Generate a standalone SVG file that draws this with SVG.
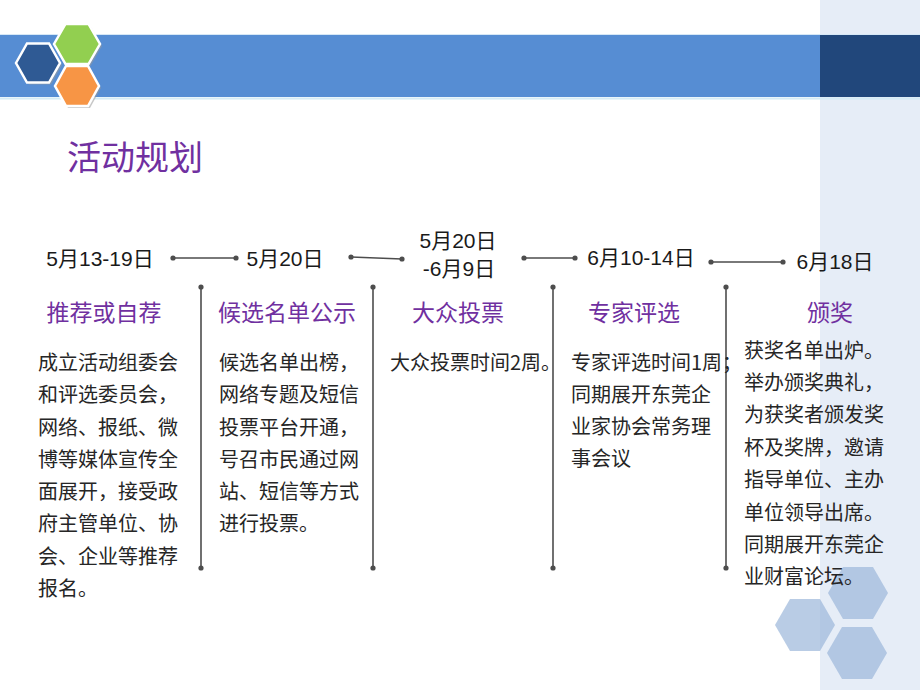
<svg xmlns="http://www.w3.org/2000/svg" width="920" height="690" viewBox="0 0 920 690">
<style>
.date{font-family:"Liberation Sans","Noto Sans CJK SC",sans-serif;font-size:21px;fill:#1a1a1a;text-anchor:middle}
.head{font-family:"Noto Sans CJK SC",sans-serif;font-size:23px;fill:#7030a0;text-anchor:middle}
.body{font-family:"Noto Sans CJK SC",sans-serif;font-size:20px;fill:#262626}
.title{font-family:"Noto Sans CJK SC",sans-serif;font-size:34px;fill:#7030a0}
.conn line{stroke:#4d4d4d;stroke-width:1.6}
.conn circle{fill:#4d4d4d}
.hexs{stroke:#ffffff;stroke-width:2.5}
.lhex{fill:#9bb7da;opacity:0.7}
</style>
<rect x="0" y="0" width="920" height="690" fill="#ffffff"/>
<rect x="820" y="0" width="100" height="690" fill="#e6edf7"/>
<g id="band">
<rect x="0" y="35" width="820" height="62" fill="#568dd3"/>
<rect x="820" y="35" width="100" height="62" fill="#21477b"/>
<line x1="0" y1="34.5" x2="920" y2="34.5" stroke="#d6e8f6" stroke-width="1"/>
<line x1="0" y1="98.5" x2="920" y2="98.5" stroke="#d4ecf6" stroke-width="2"/>
</g>
<g id="logo">
<g fill="#9a9a9a" opacity="0.55" transform="translate(2,2)">
<polygon points="16,63 27,43.5 49,43.5 60,63 49,82.5 27,82.5"/>
<polygon points="54,44 65.5,24 88.5,24 100,44 88.5,64 65.5,64"/>
<polygon points="55,86 66,66 88,66 99,86 88,106 66,106"/>
</g>
<polygon class="hexs" fill="#2f5a94" points="16,63 27,43.5 49,43.5 60,63 49,82.5 27,82.5"/>
<polygon class="hexs" fill="#92cf50" points="54,44 65.5,24 88.5,24 100,44 88.5,64 65.5,64"/>
<polygon class="hexs" fill="#f79545" points="55,86 66,66 88,66 99,86 88,106 66,106"/>
</g>
<g id="deco-hexes">
<polygon class="lhex" points="828,593 843,567 873,567 888,593 873,619 843,619"/>
<polygon class="lhex" points="775,625 790,599 820,599 835,625 820,651 790,651"/>
<polygon class="lhex" points="827,653 842,627 872,627 887,653 872,679 842,679"/>
</g>
<text id="title" class="title" x="67" y="170">活动规划</text>
<g id="connectors" class="conn">
<line x1="173" y1="258" x2="236" y2="258"/><circle cx="173" cy="258" r="2.6"/><circle cx="236" cy="258" r="2.6"/>
<line x1="351" y1="257" x2="402" y2="259"/><circle cx="351" cy="257" r="2.6"/><circle cx="402" cy="259" r="2.6"/>
<line x1="524" y1="258" x2="575" y2="258"/><circle cx="524" cy="258" r="2.6"/><circle cx="575" cy="258" r="2.6"/>
<line x1="711" y1="262" x2="783" y2="262"/><circle cx="711" cy="262" r="2.6"/><circle cx="783" cy="262" r="2.6"/>
<line x1="201" y1="287" x2="201" y2="568"/><circle cx="201" cy="287" r="2.6"/><circle cx="201" cy="568" r="2.6"/>
<line x1="373" y1="287" x2="373" y2="568"/><circle cx="373" cy="287" r="2.6"/><circle cx="373" cy="568" r="2.6"/>
<line x1="553" y1="287" x2="553" y2="568"/><circle cx="553" cy="287" r="2.6"/><circle cx="553" cy="568" r="2.6"/>
<line x1="726" y1="287" x2="726" y2="568"/><circle cx="726" cy="287" r="2.6"/><circle cx="726" cy="568" r="2.6"/>
</g>
<g id="stage1">
<text class="date" x="100" y="266">5月13-19日</text>
<text class="head" x="104" y="321">推荐或自荐</text>
<text class="body" x="38"><tspan x="38" y="370">成立活动组委会</tspan><tspan x="38" y="402">和评选委员会，</tspan><tspan x="38" y="434.5">网络、报纸、微</tspan><tspan x="38" y="466.5">博等媒体宣传全</tspan><tspan x="38" y="499">面展开，接受政</tspan><tspan x="38" y="531">府主管单位、协</tspan><tspan x="38" y="563.5">会、企业等推荐</tspan><tspan x="38" y="595.5">报名。</tspan></text>
</g>
<g id="stage2">
<text class="date" x="285" y="266">5月20日</text>
<text class="head" x="287" y="321">候选名单公示</text>
<text class="body"><tspan x="219" y="370">候选名单出榜，</tspan><tspan x="219" y="402">网络专题及短信</tspan><tspan x="219" y="434.5">投票平台开通，</tspan><tspan x="219" y="466.5">号召市民通过网</tspan><tspan x="219" y="499">站、短信等方式</tspan><tspan x="219" y="531">进行投票。</tspan></text>
</g>
<g id="stage3">
<text class="date" x="458" y="248">5月20日</text>
<text class="date" x="459" y="276">-6月9日</text>
<text class="head" x="458" y="321">大众投票</text>
<text class="body" x="390" y="370">大众投票时间2周。</text>
</g>
<g id="stage4">
<text class="date" x="641" y="265">6月10-14日</text>
<text class="head" x="634" y="321">专家评选</text>
<text class="body"><tspan x="571" y="370">专家评选时间1周；</tspan><tspan x="571" y="402">同期展开东莞企</tspan><tspan x="571" y="434">业家协会常务理</tspan><tspan x="571" y="466">事会议</tspan></text>
</g>
<g id="stage5">
<text class="date" x="835" y="269">6月18日</text>
<text class="head" x="830" y="321">颁奖</text>
<text class="body"><tspan x="744" y="358">获奖名单出炉。</tspan><tspan x="744" y="390">举办颁奖典礼，</tspan><tspan x="744" y="422">为获奖者颁发奖</tspan><tspan x="744" y="454.5">杯及奖牌，邀请</tspan><tspan x="744" y="487">指导单位、主办</tspan><tspan x="744" y="519.5">单位领导出席。</tspan><tspan x="744" y="552">同期展开东莞企</tspan><tspan x="744" y="584">业财富论坛。</tspan></text>
</g>
</svg>
